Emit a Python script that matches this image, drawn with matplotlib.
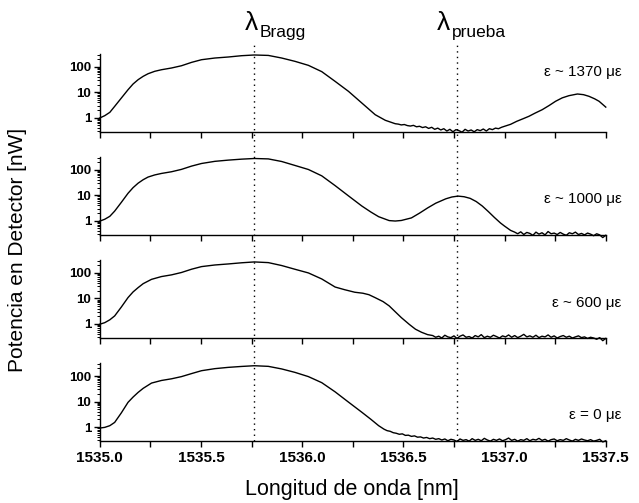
import numpy as np
import matplotlib
matplotlib.use("Agg")
import matplotlib.pyplot as plt
from matplotlib.ticker import LogLocator, FixedLocator, FuncFormatter, NullFormatter
from matplotlib.lines import Line2D
import matplotlib.transforms as mtransforms

plt.rcParams['font.family'] = ['Liberation Sans', 'DejaVu Sans']

# --- data (wavelength in nm, power in nW) ---
lam_bragg, lam_prueba = 1535.76, 1536.765
noise_step = 0.015

# eps ~ 1370: smooth part, noisy floor, second peak
x_1370_a = [1535.000, 1535.025, 1535.050, 1535.074, 1535.107, 1535.140, 1535.165, 1535.190, 1535.215, 1535.239,
            1535.272, 1535.305, 1535.355, 1535.404, 1535.454, 1535.503, 1535.569, 1535.635, 1535.701, 1535.764,
            1535.833, 1535.899, 1535.965, 1536.031, 1536.097, 1536.163, 1536.229, 1536.295, 1536.361, 1536.411,
            1536.460]
p_1370_a = [0.97, 1.2, 1.62, 2.78, 5.9, 12.5, 21, 31, 42, 53,
            66, 76, 89, 109, 148, 188, 219, 240, 270, 288,
            277, 219, 162, 113, 64, 26.6, 10.8, 3.76, 1.31, 0.79,
            0.58]
noise_1370_start = 1536.475
p_1370_noise = [0.56, 0.52, 0.54, 0.49, 0.47, 0.50, 0.44, 0.46, 0.41, 0.44, 0.38, 0.42, 0.35, 0.39, 0.33, 0.37,
                0.30, 0.35, 0.28, 0.34, 0.31, 0.27, 0.35, 0.30, 0.33, 0.28, 0.34, 0.31, 0.36, 0.30, 0.37, 0.34,
                0.39, 0.37, 0.42, 0.46]
x_1370_b = [1537.03, 1537.06, 1537.09, 1537.12, 1537.15, 1537.186, 1537.22, 1537.252, 1537.285, 1537.318,
            1537.36, 1537.39, 1537.417, 1537.445, 1537.467, 1537.50]
p_1370_b = [0.55, 0.72, 0.90, 1.13, 1.5, 2.06, 3.0, 4.4, 6.0, 7.3,
            8.5, 8.0, 6.9, 5.5, 4.4, 2.6]

# eps ~ 1000
x_1000_a = [1535.000, 1535.025, 1535.050, 1535.074, 1535.107, 1535.140, 1535.165, 1535.190, 1535.215, 1535.239,
            1535.272, 1535.305, 1535.355, 1535.404, 1535.454, 1535.503, 1535.569, 1535.635, 1535.701, 1535.764,
            1535.833, 1535.899, 1535.965, 1536.031, 1536.097, 1536.163, 1536.229, 1536.295, 1536.34, 1536.378,
            1536.43, 1536.46, 1536.49, 1536.54, 1536.58, 1536.62, 1536.66, 1536.71, 1536.74, 1536.77,
            1536.80, 1536.83, 1536.86, 1536.89, 1536.92, 1536.95, 1536.98, 1537.00, 1537.03, 1537.05]
p_1000_a = [0.97, 1.15, 1.5, 2.4, 5.3, 12, 20, 30, 41, 52,
            63, 72, 84, 104, 140, 177, 215, 240, 262, 278,
            268, 212, 148, 103, 58, 24, 9.5, 3.8, 2.2, 1.45,
            1.02, 0.98, 1.03, 1.3, 2.0, 3.2, 4.9, 7.3, 8.6, 9.3,
            8.8, 7.6, 5.7, 3.8, 2.3, 1.35, 0.82, 0.62, 0.42, 0.36]
noise_1000_start = 1537.065
p_1000_noise = [0.31, 0.37, 0.29, 0.35, 0.32, 0.27, 0.36, 0.30, 0.34, 0.28, 0.38, 0.31, 0.33, 0.29, 0.35,
                0.30, 0.27, 0.34, 0.31, 0.36, 0.29, 0.32, 0.28, 0.33, 0.30, 0.26, 0.31, 0.28, 0.22, 0.27]

# eps ~ 600
x_600_a = [1535.000, 1535.025, 1535.050, 1535.074, 1535.107, 1535.140, 1535.165, 1535.190, 1535.215, 1535.256,
           1535.305, 1535.355, 1535.404, 1535.454, 1535.503, 1535.569, 1535.635, 1535.701, 1535.764, 1535.833,
           1535.899, 1535.965, 1536.031, 1536.097, 1536.163, 1536.21, 1536.26, 1536.30, 1536.33, 1536.36,
           1536.40, 1536.43, 1536.46, 1536.49, 1536.53, 1536.56, 1536.59, 1536.62]
p_600_a = [0.97, 1.12, 1.45, 2.06, 4.6, 10.8, 18, 26.6, 38, 56,
           72, 84, 104, 140, 177, 205, 225, 250, 270, 254,
           195, 139, 100, 58, 28, 22, 17.5, 16, 14, 10.8,
           7.5, 5.1, 3.0, 1.77, 0.95, 0.62, 0.47, 0.38]
noise_600_start = 1536.645
p_600_noise = [0.35, 0.30, 0.33, 0.28, 0.36, 0.31, 0.29, 0.34, 0.27, 0.33,
               0.37, 0.30, 0.32, 0.28, 0.35, 0.31, 0.38, 0.29, 0.33, 0.30,
               0.36, 0.32, 0.28, 0.34, 0.31, 0.37, 0.30, 0.35, 0.29, 0.33,
               0.39, 0.31, 0.34, 0.30, 0.36, 0.29, 0.33, 0.31, 0.37, 0.30,
               0.34, 0.28, 0.32, 0.35, 0.30, 0.33, 0.28, 0.31, 0.34, 0.29,
               0.31, 0.27, 0.30, 0.28, 0.25, 0.29, 0.22, 0.27]

# eps = 0
x_0_a = [1535.000, 1535.025, 1535.050, 1535.074, 1535.107, 1535.140, 1535.165, 1535.190, 1535.215, 1535.256,
         1535.305, 1535.355, 1535.404, 1535.454, 1535.503, 1535.569, 1535.635, 1535.701, 1535.764, 1535.833,
         1535.899, 1535.965, 1536.031, 1536.097, 1536.163, 1536.229, 1536.295, 1536.34, 1536.378]
p_0_a = [0.91, 0.97, 1.13, 1.52, 3.6, 9.3, 15, 22.9, 33, 53,
         67, 78, 95, 125, 162, 195, 219, 238, 254, 240,
         190, 139, 95, 55, 24, 9.5, 3.8, 2.0, 1.13]
noise_0_start = 1536.405
p_0_noise = [0.82, 0.72, 0.68, 0.60, 0.57, 0.52, 0.54, 0.47, 0.48, 0.43,
             0.45, 0.40, 0.41, 0.37, 0.39, 0.35, 0.37, 0.33, 0.35, 0.31,
             0.34, 0.29, 0.33, 0.31, 0.27, 0.34, 0.30, 0.32, 0.28, 0.35,
             0.30, 0.33, 0.29, 0.36, 0.31, 0.28, 0.33, 0.30, 0.34, 0.29,
             0.32, 0.37, 0.30, 0.33, 0.28, 0.32, 0.30, 0.35, 0.29, 0.33,
             0.31, 0.36, 0.30, 0.33, 0.28, 0.32, 0.34, 0.29, 0.32, 0.30,
             0.35, 0.31, 0.28, 0.33, 0.30, 0.34, 0.31, 0.29, 0.32, 0.28,
             0.30, 0.33, 0.26, 0.29]

labels = [u"\u03b5 ~ 1370 \u03bc\u03b5", u"\u03b5 ~ 1000 \u03bc\u03b5",
          u"\u03b5 ~ 600 \u03bc\u03b5", u"\u03b5 = 0 \u03bc\u03b5"]
label_y = [0.857, 0.604, 0.397, 0.175]


def noise_x(start, values):
    return list(start + noise_step * np.arange(len(values)))


series = [
    (x_1370_a + noise_x(noise_1370_start, p_1370_noise) + x_1370_b, p_1370_a + p_1370_noise + p_1370_b),
    (x_1000_a + noise_x(noise_1000_start, p_1000_noise), p_1000_a + p_1000_noise),
    (x_600_a + noise_x(noise_600_start, p_600_noise), p_600_a + p_600_noise),
    (x_0_a + noise_x(noise_0_start, p_0_noise), p_0_a + p_0_noise),
]

bottoms = [0.738, 0.533, 0.328, 0.123]
left, width, height = 0.156, 0.792, 0.155

fig = plt.figure(figsize=(6.39, 5.03), dpi=100)
axes = []
for i in range(0, 4):
    ax = fig.add_axes([left, bottoms[i], width, height])
    x, p = series[i]
    ax.plot(x, p, '-', color='black', lw=1.0, clip_on=False)
    ax.set_yscale('log')
    ax.set_xlim(1535.0, 1537.5)
    ax.set_ylim(0.28, 320)
    for s in ['top', 'right']:
        ax.spines[s].set_visible(False)
    ax.spines['left'].set_linewidth(1.0)
    ax.spines['bottom'].set_linewidth(1.0)
    ax.xaxis.set_major_locator(FixedLocator([1535.0, 1535.5, 1536.0, 1536.5, 1537.0, 1537.5]))
    ax.xaxis.set_minor_locator(FixedLocator([1535.25, 1535.75, 1536.25, 1536.75, 1537.25]))
    ax.yaxis.set_major_locator(LogLocator(base=10))
    ax.yaxis.set_minor_locator(LogLocator(base=10, subs=np.arange(2, 10)))
    ax.yaxis.set_major_formatter(FuncFormatter(lambda v, pos: "%d" % round(v)))
    ax.yaxis.set_minor_formatter(NullFormatter())
    ax.tick_params(axis='x', which='both', direction='out', length=4, width=1)
    ax.tick_params(axis='y', which='major', direction='out', length=4, width=1, labelsize=9.5, pad=2)
    ax.tick_params(axis='y', which='minor', direction='out', length=2, width=0.7)
    for t in ax.get_yticklabels():
        t.set_fontweight('bold')
    if i < 3:
        ax.set_xticklabels([])
    else:
        ax.xaxis.set_major_formatter(FuncFormatter(lambda v, pos: "%.1f" % v))
        ax.tick_params(axis='x', labelsize=11, pad=3)
        for t in ax.get_xticklabels():
            t.set_fontweight('bold')
    ax.patch.set_alpha(0)
    fig.text(0.973, label_y[i], labels[i], ha='right', va='center', fontsize=11)
    axes.append(ax)

# dotted guide lines running through all panels
trans = mtransforms.blended_transform_factory(axes[3].transData, fig.transFigure)
for xv in [lam_bragg, lam_prueba]:
    fig.add_artist(Line2D([xv, xv], [0.123, 0.912], transform=trans, color='black',
                          lw=1.0, linestyle=(0, (1, 3))))

fig.text(0.383, 0.94, u"\u03bb", fontsize=19, ha='left', va='baseline')
fig.text(0.407, 0.926, "Bragg", fontsize=12.5, ha='left', va='baseline')
fig.text(0.684, 0.94, u"\u03bb", fontsize=19, ha='left', va='baseline')
fig.text(0.707, 0.926, "prueba", fontsize=12.5, ha='left', va='baseline')

fig.text(0.028, 0.503, "Potencia en Detector [nW]", rotation=90, ha='center', va='center', fontsize=15)
fig.text(0.551, 0.026, "Longitud de onda [nm]", ha='center', va='center', fontsize=15.5)

plt.savefig("out.png", dpi=100)
